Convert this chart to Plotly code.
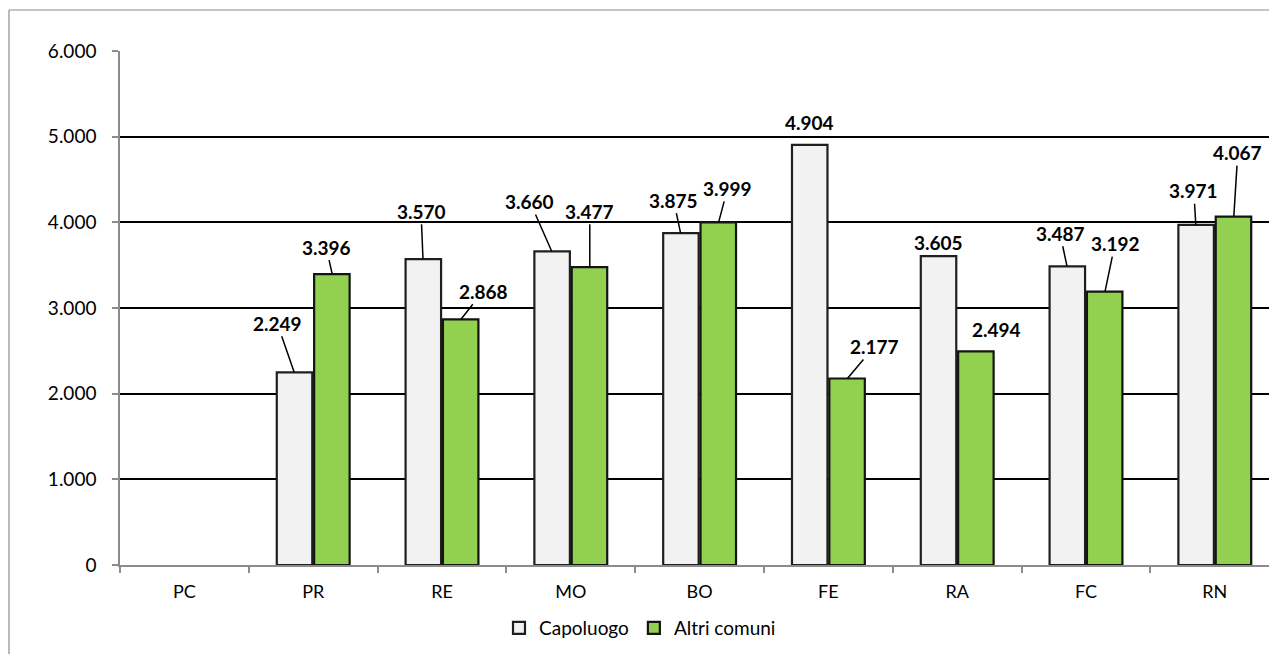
import plotly.graph_objects as go

# ---- data ----
categories = ["PC", "PR", "RE", "MO", "BO", "FE", "RA", "FC", "RN"]
capoluogo = [None, 2249, 3570, 3660, 3875, 4904, 3605, 3487, 3971]
altri_comuni = [None, 3396, 2868, 3477, 3999, 2177, 2494, 3192, 4067]
y_ticks = [0, 1000, 2000, 3000, 4000, 5000, 6000]

# ---- label placement (pixel offsets of label centre from bar top) ----
cap_label_offsets = [None, (-17, -49), (-2, -48), (-22, -50), (-7, -33), (0, -22), (0, -14), (-7, -33), (-2, -34)]
alt_label_offsets = [None, (-6, -27), (22, -28), (0, -56), (9, -34), (27, -32), (20, -22), (10, -48), (4, -64)]
cap_leader = [False, True, True, True, True, False, False, True, True]
alt_leader = [False, True, True, True, True, True, False, True, True]

FONT = "Lato, 'Open Sans', sans-serif"
W, H = 1269, 654
ML, MR, MT, MB = 120, 0, 51, 89
plot_w = W - ML - MR
plot_h = H - MT - MB
cat_w = 128.8


def fmt(v):
    return f"{v:,}".replace(",", ".")


fig = go.Figure()
fig.add_trace(go.Bar(
    name="Capoluogo", x=categories, y=capoluogo,
    marker=dict(color="#F2F2F2", line=dict(color="#1F1F1F", width=2.2)),
))
fig.add_trace(go.Bar(
    name="Altri comuni", x=categories, y=altri_comuni,
    marker=dict(color="#92D050", line=dict(color="#141414", width=2.2)),
))

annotations = []
for vals, offs, leaders, shift in ((capoluogo, cap_label_offsets, cap_leader, -19),
                                   (altri_comuni, alt_label_offsets, alt_leader, 19)):
    for c, v, o, ld in zip(categories, vals, offs, leaders):
        if v is None:
            continue
        annotations.append(dict(
            x=c, y=v, xref="x", yref="y", xshift=shift,
            text=f"<b>{fmt(v)}</b>", showarrow=True,
            ax=o[0], ay=o[1], axref="pixel", ayref="pixel",
            arrowhead=0, arrowwidth=1.5, standoff=0, startstandoff=0,
            arrowcolor="#000000" if ld else "rgba(0,0,0,0)",
            font=dict(family=FONT, size=19, color="#000000"),
        ))

x_end = -0.5 + plot_w / cat_w

shapes = [
    dict(type="line", xref="paper", yref="paper",
         x0=(9 - ML) / plot_w, x1=1.05, y0=1 + (MT - 10) / plot_h, y1=1 + (MT - 10) / plot_h,
         line=dict(color="#8C8C8C", width=1.2)),
    dict(type="line", xref="paper", yref="paper",
         x0=(9 - ML) / plot_w, x1=(9 - ML) / plot_w, y0=-0.3, y1=1 + (MT - 10) / plot_h,
         line=dict(color="#8C8C8C", width=1.2)),
]

fig.update_layout(
    width=W, height=H,
    margin=dict(l=ML, r=MR, t=MT, b=MB, pad=0),
    paper_bgcolor="white", plot_bgcolor="white",
    separators=",.",
    barmode="group", bargap=0.42, bargroupgap=0.05,
    font=dict(family=FONT, size=18, color="#000000"),
    showlegend=True,
    legend=dict(orientation="h", x=(640 - ML) / plot_w, xanchor="center",
                y=(MT + plot_h - 628) / plot_h, yanchor="middle",
                font=dict(family=FONT, size=19, color="#000000"),
                bgcolor="rgba(0,0,0,0)", itemwidth=30),
    annotations=annotations,
    shapes=shapes,
    xaxis=dict(
        type="category", range=[-0.5, x_end],
        showgrid=False, showline=True, linecolor="#8C8C8C", linewidth=1.5,
        ticks="outside", tickson="boundaries", ticklen=6, tickcolor="#8C8C8C", tickwidth=1.5,
        ticklabelstandoff=10,
        tickfont=dict(family=FONT, size=18, color="#000000"),
        fixedrange=True,
    ),
    yaxis=dict(
        range=[0, 6000], tickvals=y_ticks, tickformat=",.0f",
        showgrid=True, gridcolor="#000000", gridwidth=1.5,
        zeroline=False, showline=True, linecolor="#8C8C8C", linewidth=1.5,
        ticks="outside", ticklen=6, tickcolor="#8C8C8C", tickwidth=1.5,
        ticklabelstandoff=12,
        tickfont=dict(family=FONT, size=19, color="#000000"),
        fixedrange=True,
    ),
)

fig.write_html("out.html")
